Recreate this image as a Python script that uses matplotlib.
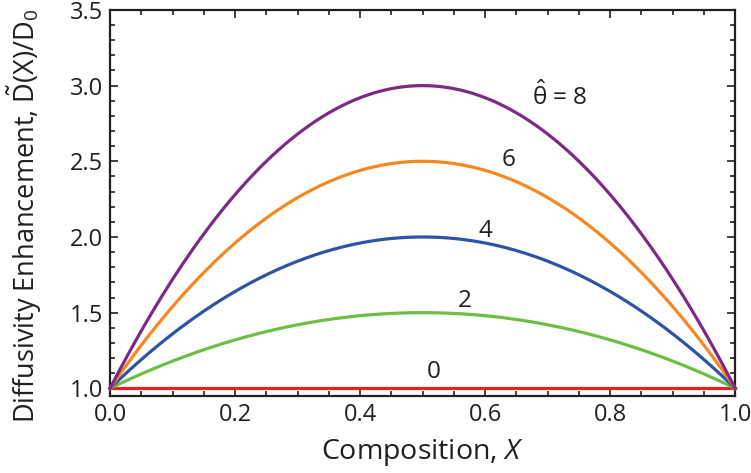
import numpy as np
import matplotlib.pyplot as plt

plt.rcParams['font.family'] = ['Open Sans', 'DejaVu Sans']
plt.rcParams['mathtext.fontset'] = 'custom'
plt.rcParams['mathtext.rm'] = 'Open Sans'
plt.rcParams['mathtext.it'] = 'Open Sans:italic'

# interaction parameter for each curve, with its colour and label spot
theta = [0, 2, 4, 6, 8]
colors = ['#ED1C24', '#6DBE45', '#2E55A5', '#F7871F', '#7D2A86']
labels = ['0', '2', '4', '6', r'$\hat{\mathrm{θ}}$ = 8']
label_x = [0.518, 0.568, 0.60, 0.638, 0.72]
label_y = [1.11, 1.58, 2.04, 2.51, 2.93]

x = np.linspace(0, 1, 401)

fig = plt.figure(figsize=(7.51, 4.73), dpi=100)
ax = fig.add_axes([0.1465, 0.163, 0.8325, 0.816])

for th, c in zip(theta, colors):
    ax.plot(x, 1 + th * x * (1 - x), color=c, lw=2.3, clip_on=False, zorder=3)

for lx, ly, lab in zip(label_x, label_y, labels):
    ax.text(lx, ly, lab, fontsize=17.5, ha='center', va='center', color='#231F20')

ax.set_xlim(0, 1)
ax.set_ylim(0.95, 3.5)
ax.set_xticks(np.arange(0, 1.01, 0.2))
ax.set_xticks(np.arange(0, 1.01, 0.05), minor=True)
ax.set_yticks(np.arange(1.0, 3.51, 0.5))
ax.set_yticks(np.arange(1.0, 3.51, 0.1), minor=True)
ax.xaxis.set_major_formatter(plt.FormatStrFormatter('%.1f'))
ax.yaxis.set_major_formatter(plt.FormatStrFormatter('%.1f'))

ax.tick_params(which='both', direction='in', top=True, right=True,
               color='#231F20', width=1.2, labelsize=17, labelcolor='#231F20')
ax.tick_params(which='major', length=6, pad=5)
ax.tick_params(which='minor', length=3.5)
for s in ax.spines.values():
    s.set_linewidth(1.6)
    s.set_color('#231F20')

ax.set_xlabel(r'Composition, $\mathit{X}$', fontsize=20.5, color='#231F20', labelpad=7)
ax.set_ylabel(r'Diffusivity Enhancement, $\tilde{\mathrm{D}}$(X)/D$_0$',
              fontsize=19.5, color='#231F20')
ax.yaxis.set_label_coords(-0.105, 0.465)

fig.savefig('out.png', dpi=100)
